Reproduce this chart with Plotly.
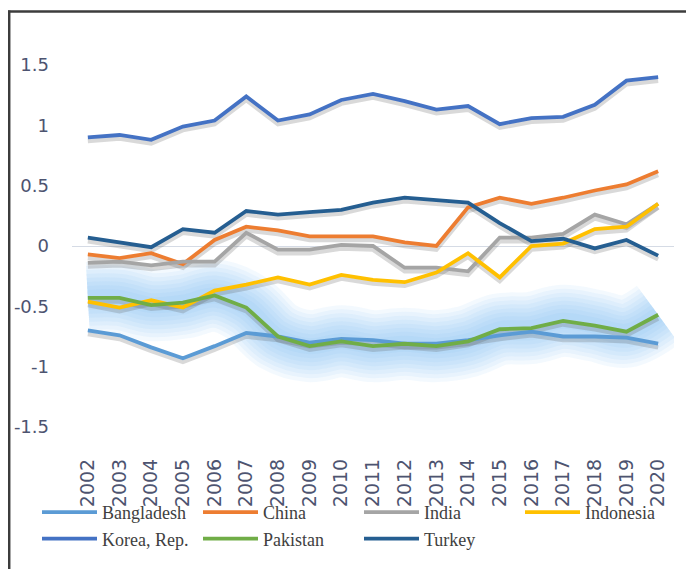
import plotly.graph_objects as go

years = [str(y) for y in range(2002, 2021)]

bangladesh = [-0.70, -0.74, -0.84, -0.93, -0.83, -0.72, -0.75, -0.80, -0.77, -0.78, -0.81, -0.81, -0.78, -0.74, -0.71, -0.75, -0.75, -0.76, -0.81]
china      = [-0.07, -0.10, -0.06, -0.15, 0.05, 0.16, 0.13, 0.08, 0.08, 0.08, 0.03, 0.00, 0.32, 0.40, 0.35, 0.40, 0.46, 0.51, 0.62]
india      = [-0.14, -0.13, -0.16, -0.13, -0.13, 0.11, -0.03, -0.03, 0.01, 0.00, -0.18, -0.18, -0.21, 0.07, 0.07, 0.10, 0.26, 0.18, 0.35]
indonesia  = [-0.46, -0.51, -0.45, -0.51, -0.37, -0.32, -0.26, -0.32, -0.24, -0.28, -0.30, -0.22, -0.06, -0.26, 0.00, 0.02, 0.14, 0.16, 0.35]
korea      = [0.90, 0.92, 0.88, 0.99, 1.04, 1.24, 1.04, 1.09, 1.21, 1.26, 1.20, 1.13, 1.16, 1.01, 1.06, 1.07, 1.17, 1.37, 1.40]
pakistan   = [-0.43, -0.43, -0.49, -0.47, -0.41, -0.51, -0.75, -0.83, -0.79, -0.83, -0.81, -0.83, -0.79, -0.69, -0.68, -0.62, -0.66, -0.71, -0.57]
turkey     = [0.07, 0.03, -0.01, 0.14, 0.11, 0.29, 0.26, 0.28, 0.30, 0.36, 0.40, 0.38, 0.36, 0.19, 0.04, 0.06, -0.02, 0.05, -0.08]

series = [
    ("Bangladesh", bangladesh, "#5B9BD5"),
    ("China", china, "#ED7D31"),
    ("India", india, "#A5A5A5"),
    ("Indonesia", indonesia, "#FFC000"),
    ("Korea, Rep.", korea, "#4472C4"),
    ("Pakistan", pakistan, "#70AD47"),
    ("Turkey", turkey, "#255E91"),
]

fig = go.Figure()

# soft blue glow behind the Pakistan series
for w in [72, 64, 56, 48, 40, 32, 24, 16]:
    fig.add_trace(go.Scatter(x=years, y=pakistan, mode="lines",
                             line=dict(color="rgba(115,180,242,0.085)", width=w, shape="spline", smoothing=1.0),
                             showlegend=False, hoverinfo="skip"))

# drop shadows
for name, vals, col in series:
    fig.add_trace(go.Scatter(x=years, y=[v - 0.03 for v in vals], mode="lines",
                             line=dict(color="rgba(80,80,80,0.22)", width=4.5),
                             showlegend=False, hoverinfo="skip"))

for name, vals, col in series:
    fig.add_trace(go.Scatter(x=years, y=vals, mode="lines", name=name,
                             line=dict(color=col, width=3.8)))

# page is offset by the 8px body margin; figure coordinates below account for it
W, H = 686, 561
L, T, R, B = 64, 57, 666, 419   # plot area in figure px
def px(x):
    return (x - L) / (R - L)
def py(y):
    return (B - y) / (B - T)

fig.update_layout(
    width=W, height=H,
    margin=dict(l=L, r=W - R, t=T, b=H - B, autoexpand=False),
    paper_bgcolor="white", plot_bgcolor="white",
    showlegend=True,
    legend=dict(orientation="h", x=px(29), xanchor="left", y=py(486), yanchor="top",
                font=dict(family="Liberation Serif", size=18, color="#404040"),
                entrywidth=91, entrywidthmode="pixels", itemwidth=55,
                bgcolor="rgba(0,0,0,0)", tracegroupgap=0),
    xaxis=dict(type="category", range=[-0.5, 18.5], tickangle=-90, automargin=False,
               showgrid=False, showline=False, ticks="", ticklabelstandoff=27,
               tickfont=dict(family="DejaVu Sans", size=19, color="#4d5470")),
    yaxis=dict(range=[-1.5, 1.5], tickvals=[-1.5, -1, -0.5, 0, 0.5, 1, 1.5], automargin=False,
               ticktext=["-1.5", "-1", "-0.5", "0", "0.5", "1", "1.5"],
               showgrid=False, zeroline=True, zerolinecolor="#d5dbe5", zerolinewidth=1,
               showline=False, ticks="", ticklabelstandoff=22,
               tickfont=dict(family="DejaVu Sans", size=18, color="#4d5470")),
    shapes=[
        dict(type="line", xref="paper", yref="paper",
             x0=px(0), x1=px(W + 5), y0=py(3.5), y1=py(3.5),
             line=dict(color="#3c3c3c", width=2.5)),
        dict(type="line", xref="paper", yref="paper",
             x0=px(1.2), x1=px(1.2), y0=py(2.5), y1=py(H + 5),
             line=dict(color="#3c3c3c", width=2.5)),
    ],
)

fig.write_html("out.html")
